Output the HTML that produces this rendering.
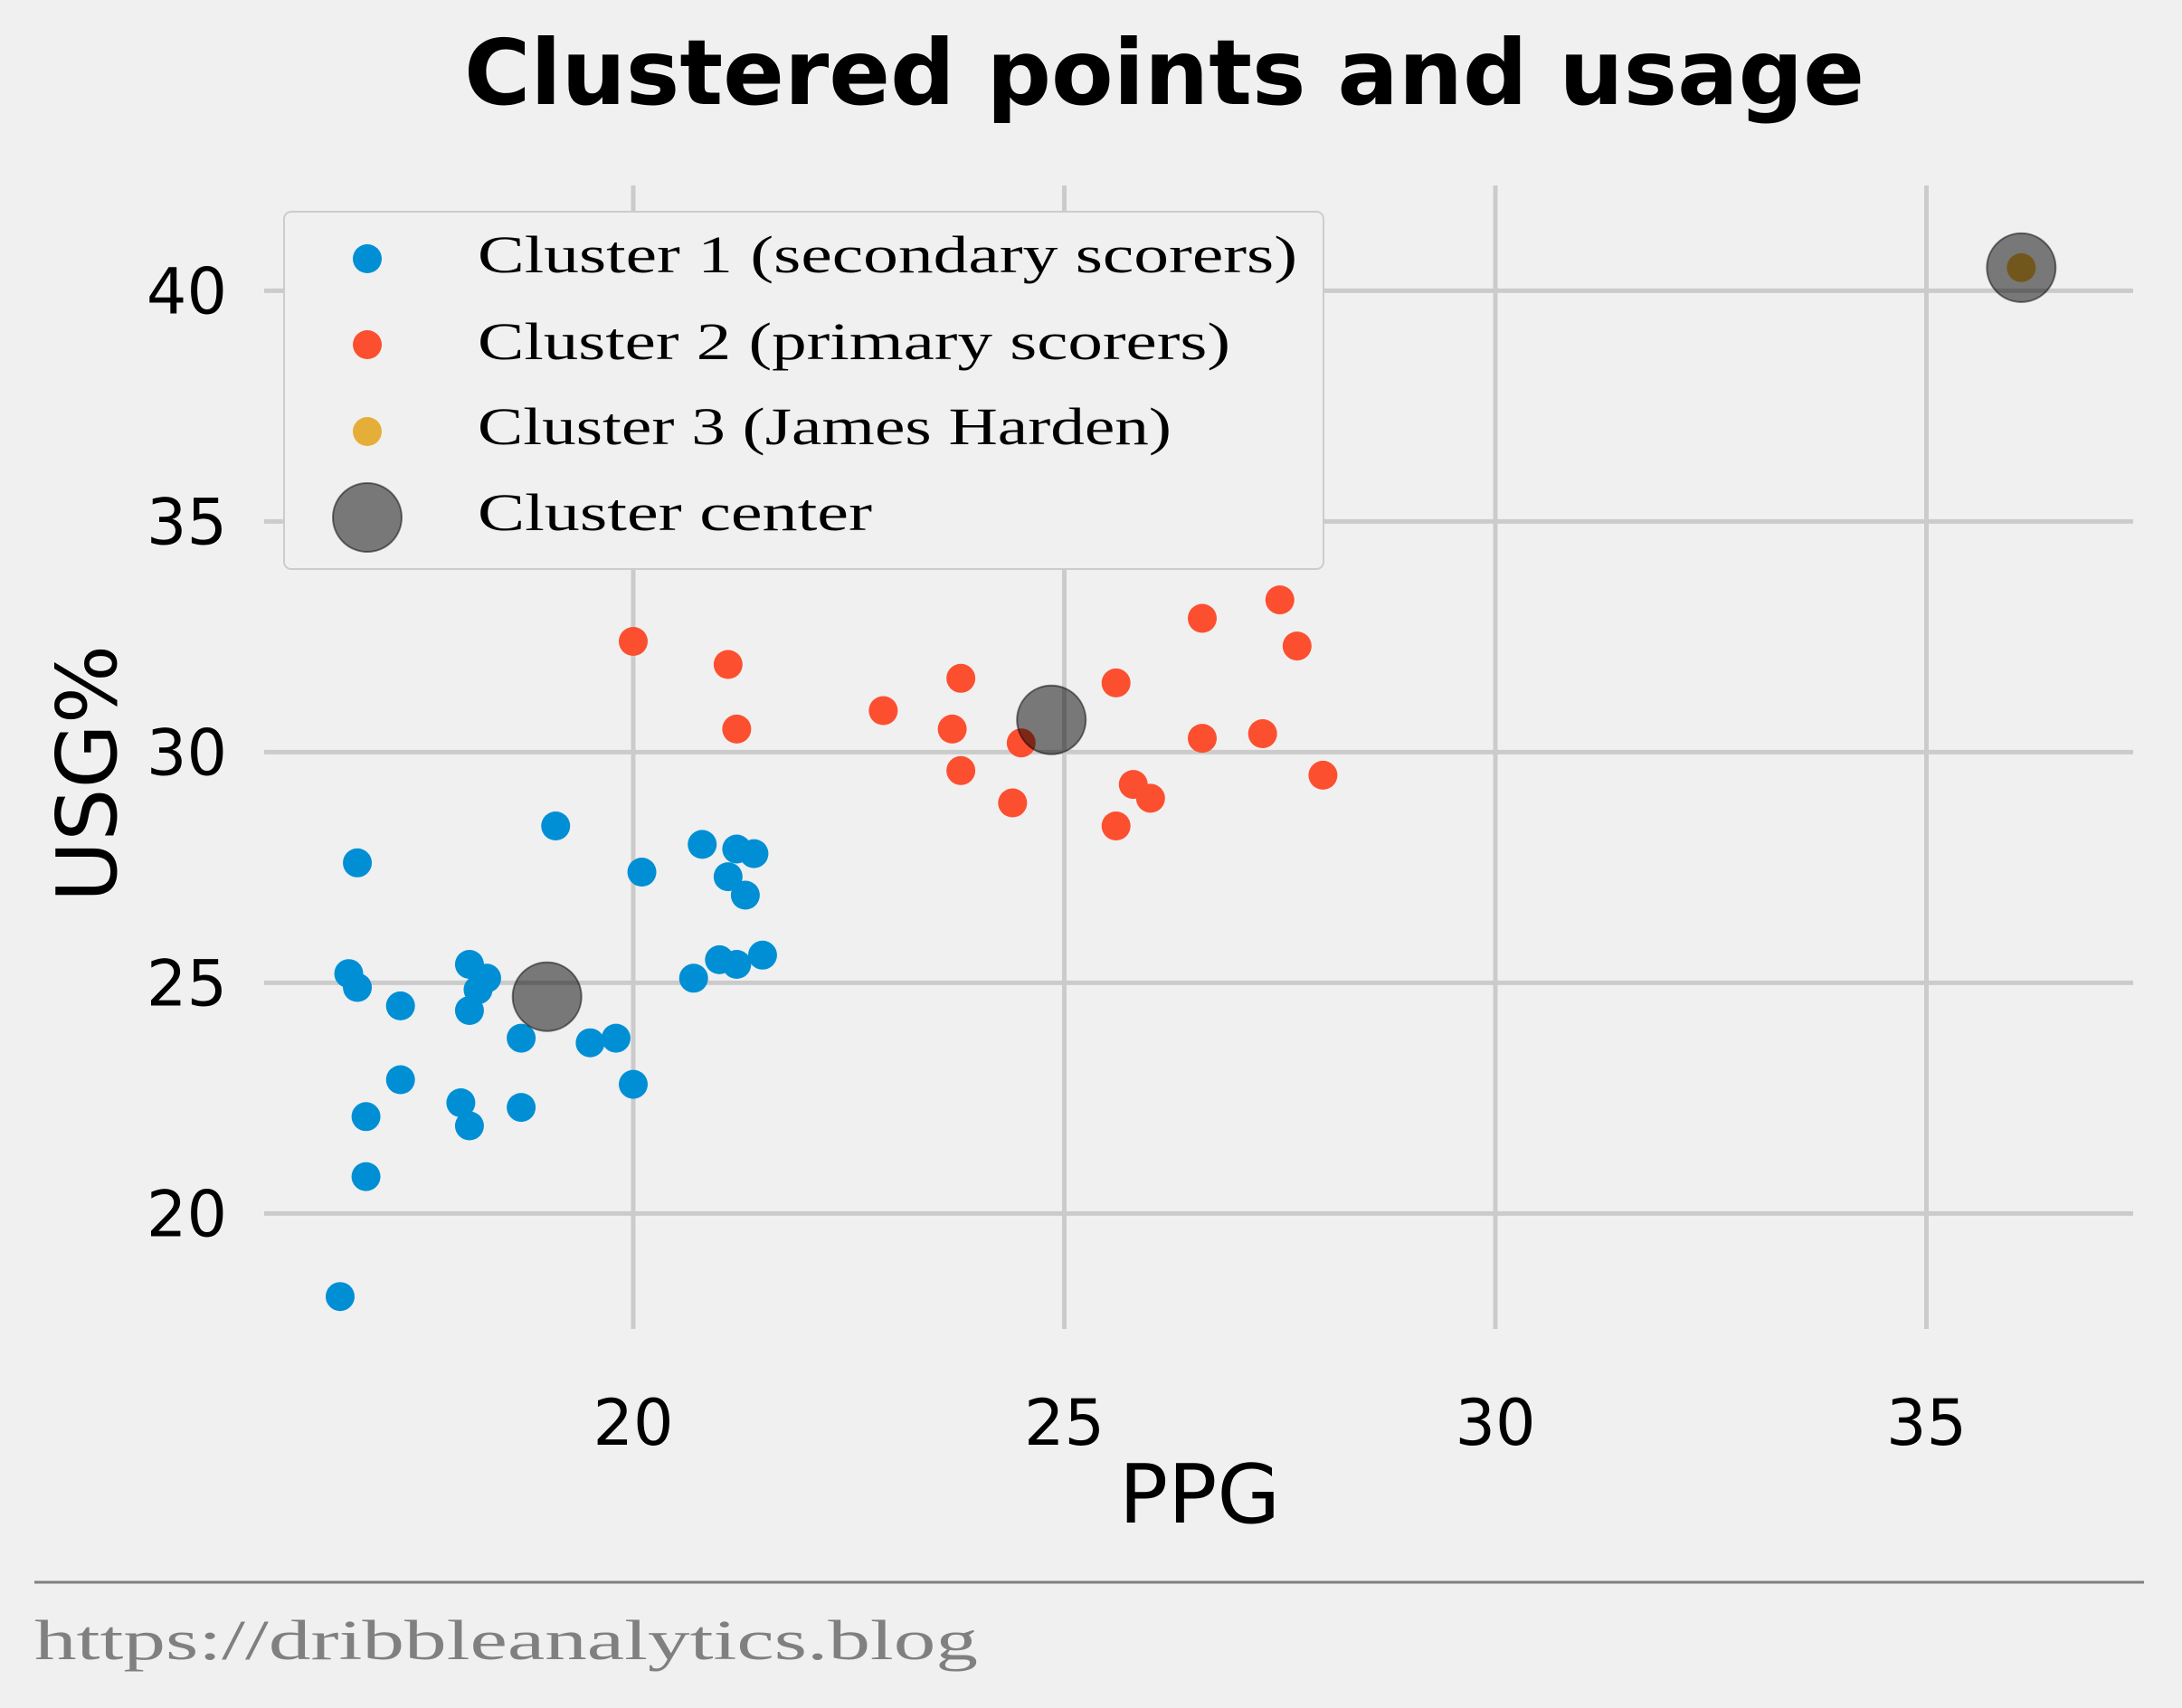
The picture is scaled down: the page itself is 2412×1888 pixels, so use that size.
<!DOCTYPE html>
<html><head><meta charset="utf-8"><style>
html,body{margin:0;padding:0;background:#f0f0f0;}
svg{display:block;}
</style></head><body>
<svg id="chart" width="2412" height="1888" viewBox="0 0 2412 1888" xmlns="http://www.w3.org/2000/svg">
<rect width="2412" height="1888" fill="#f0f0f0"/>
<text x="1287" y="115" text-anchor="middle" font-family="'DejaVu Sans', sans-serif" font-weight="bold" font-size="100" fill="#000">Clustered points and usage</text>
<g id="grid"></g>
<g id="ticks"></g>
<g id="marks"></g>
<text x="1326" y="1683" text-anchor="middle" font-family="'DejaVu Sans', sans-serif" font-size="90" fill="#000">PPG</text>
<text transform="translate(128,855) rotate(-90)" text-anchor="middle" font-family="'DejaVu Sans', sans-serif" font-size="92" fill="#000">USG%</text>
<g>
<rect x="314" y="234" width="1149" height="395" rx="8" fill="#f0f0f0" stroke="#cccccc" stroke-width="2"/>
<circle cx="406" cy="286" r="16" fill="#008fd5"/>
<circle cx="406" cy="381" r="16" fill="#fc4f30"/>
<circle cx="406" cy="477" r="16" fill="#e5ae38"/>
<circle cx="406" cy="572" r="38" fill="rgba(0,0,0,0.5)" stroke="#000" stroke-opacity="0.5" stroke-width="2"/>
<g font-family="'Liberation Serif', serif" font-size="58" fill="#000">
<text x="528" y="301" textLength="906" lengthAdjust="spacingAndGlyphs">Cluster 1 (secondary scorers)</text>
<text x="528" y="397" textLength="832" lengthAdjust="spacingAndGlyphs">Cluster 2 (primary scorers)</text>
<text x="528" y="491" textLength="767" lengthAdjust="spacingAndGlyphs">Cluster 3 (James Harden)</text>
<text x="528" y="586" textLength="436" lengthAdjust="spacingAndGlyphs">Cluster center</text>
</g>
</g>
<line x1="38" y1="1749" x2="2370" y2="1749" stroke="#808080" stroke-width="3"/>
<text x="38" y="1834" font-family="'Liberation Serif', serif" font-size="62" fill="#808080" textLength="1043" lengthAdjust="spacingAndGlyphs">https://dribbleanalytics.blog</text>
</svg>
<script>
const xTicks=[20,25,30,35];
const yTicks=[20,25,30,35,40];
const c1PPG=[16.8,16.7,16.8,17.3,17.3,16.9,16.9,16.6,18.0,18.1,18.1,18.3,18.2,18.1,18.7,18.7,19.1,19.5,19.8,20.0,20.1,20.7,20.8,21.0,21.1,21.2,21.4,21.3,21.2,21.5];
const c1USG=[27.6,25.2,24.9,24.5,22.9,22.1,20.8,18.2,22.4,21.9,25.4,25.1,24.85,24.4,23.8,22.3,28.4,23.7,23.8,22.8,27.4,25.1,28.0,25.5,27.3,27.9,27.8,26.9,25.4,25.6];
const c2PPG=[20.0,21.1,21.2,22.9,23.7,23.8,23.8,24.4,24.5,25.6,25.6,25.8,26.0,26.6,26.6,27.3,27.5,27.7,28.0];
const c2USG=[32.4,31.9,30.5,30.9,30.5,31.6,29.6,28.9,30.2,31.5,28.4,29.3,29.0,32.9,30.3,30.4,33.3,32.3,29.5];
const c3PPG=[36.1];
const c3USG=[40.5];
const centerPPG=[19.0,24.85,36.1];
const centerUSG=[24.7,30.7,40.5];

const NS="http://www.w3.org/2000/svg";
function xS(v){return 700+(v-20)*95.3;}
function yS(v){return 1341.4-(v-20)*51.0;}
const grid=document.getElementById('grid'),ticks=document.getElementById('ticks'),marks=document.getElementById('marks');
function mk(tag,attrs,parent){const e=document.createElementNS(NS,tag);for(const k in attrs)e.setAttribute(k,attrs[k]);parent.appendChild(e);return e;}
xTicks.forEach(t=>{
  const l=mk('line',{x1:xS(t),x2:xS(t),y1:205,y2:1469,stroke:'#cbcbcb','stroke-width':5},grid);
  
  
  const tx=mk('text',{x:xS(t),y:1597,'text-anchor':'middle','font-family':"'DejaVu Sans', sans-serif",'font-size':70,fill:'#000'},ticks);
  tx.textContent=t;
  
  
});
yTicks.forEach(t=>{
  const l=mk('line',{x1:292,x2:2358,y1:yS(t),y2:yS(t),stroke:'#cbcbcb','stroke-width':5},grid);
  
  
  const tx=mk('text',{x:251,y:yS(t)+25,'text-anchor':'end','font-family':"'DejaVu Sans', sans-serif",'font-size':70,fill:'#000'},ticks);
  tx.textContent=t;
  
  
});
function series(xs,ys,color,name){
  xs.forEach((v,i)=>{
    const c=mk('circle',{cx:xS(v),cy:yS(ys[i]),r:16,fill:color},marks);
    
    
  });
}
series(c1PPG,c1USG,'#008fd5','cluster-1-point');
series(c2PPG,c2USG,'#fc4f30','cluster-2-point');
series(c3PPG,c3USG,'#e5ae38','cluster-3-point');
centerPPG.forEach((v,i)=>{
  const c=mk('circle',{cx:xS(v),cy:yS(centerUSG[i]),r:38,fill:'rgba(0,0,0,0.5)',stroke:'#000','stroke-opacity':0.5,'stroke-width':2},marks);
  
  
});
</script>
</body></html>
